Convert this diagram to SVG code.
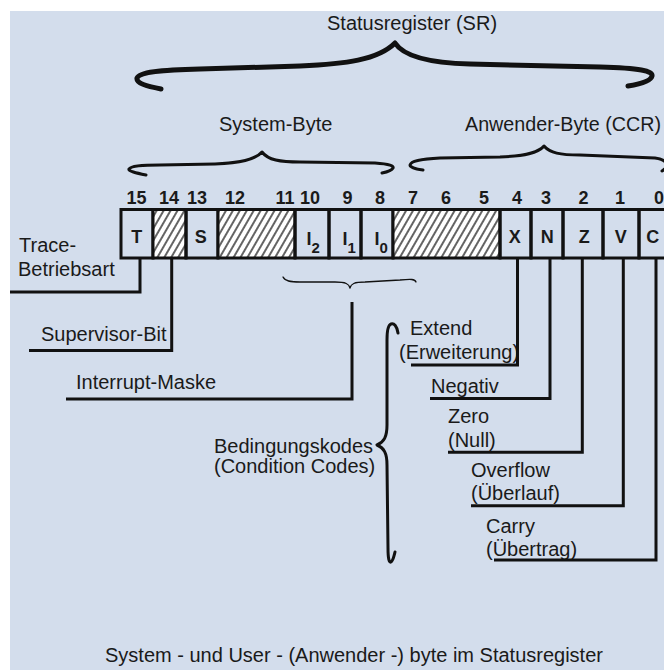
<svg xmlns="http://www.w3.org/2000/svg" width="664" height="670" viewBox="0 0 664 670">
<defs>
<pattern id="hatch" patternUnits="userSpaceOnUse" width="6" height="6" patternTransform="rotate(30)">
<rect width="6" height="6" fill="#ffffff"/>
<line x1="1" y1="0" x2="1" y2="6" stroke="#222" stroke-width="1.4"/>
</pattern>
</defs>
<style>
.lbl{font-family:"Liberation Sans",Arial,sans-serif;font-size:20px;fill:#1a1a1a}
.num{font-family:"Liberation Sans",Arial,sans-serif;font-size:18px;font-weight:bold;fill:#1a1a1a;text-anchor:middle}
.cellt{font-family:"Liberation Sans",Arial,sans-serif;font-size:18px;font-weight:bold;fill:#1a1a1a}
.box{fill:none;stroke:#111;stroke-width:3}
.hat{fill:url(#hatch);stroke:#111;stroke-width:3}
.ln{fill:none;stroke:#111;stroke-width:3}
.br{fill:none;stroke:#111;stroke-linecap:round;stroke-linejoin:round}
</style>
<rect x="10" y="11" width="654" height="659" fill="#d3ddec"/>

<g id="title">
<text class="lbl" x="327" y="30">Statusregister (SR)</text>
<path class="br" stroke-width="5" d="M161,89 C146,86 136,83 137,78 C139,72 160,70 200,69 L300,66 C345,64 378,60 395,43 C404,57 430,63 470,64 L600,67 C640,68 653,71 652,76 C651,81 640,84 628,86"/>
</g>

<g id="system-byte">
<text class="lbl" x="219" y="131">System-Byte</text>
<path class="br" stroke-width="3" d="M146,175 C136,173 128,171 129,169 C131,166 140,165 160,165 L215,164 C240,163 255,160 262,152 C268,160 280,162 300,162 L375,163 C390,164 394,166 393,168 C392,170 387,172 382,173"/>
</g>

<g id="anwender-byte">
<text class="lbl" x="465" y="131" textLength="196" lengthAdjust="spacingAndGlyphs">Anwender-Byte (CCR)</text>
<path class="br" stroke-width="3" d="M423,170 C415,169 410,167 410,165 C411,161 420,159 440,158 L500,157 C525,156 538,153 544,146 C550,153 560,155 580,155 L655,158 C668,160 670,166 662,171"/>
</g>

<g id="bitnumbers">
<text class="num" x="136.5" y="204">15</text>
<text class="num" x="169" y="204">14</text>
<text class="num" x="197" y="204">13</text>
<text class="num" x="235" y="204">12</text>
<text class="num" x="285" y="204">11</text>
<text class="num" x="310" y="204">10</text>
<text class="num" x="347.5" y="204">9</text>
<text class="num" x="380" y="204">8</text>
<text class="num" x="413" y="204">7</text>
<text class="num" x="446" y="204">6</text>
<text class="num" x="484" y="204">5</text>
<text class="num" x="517" y="204">4</text>
<text class="num" x="546" y="204">3</text>
<text class="num" x="583.5" y="204">2</text>
<text class="num" x="620" y="204">1</text>
<text class="num" x="659" y="204">0</text>
</g>

<g id="register">
<rect id="bit15" class="box" x="121" y="209.5" width="32" height="48.5"/>
<rect id="bit14" class="hat" x="153" y="209.5" width="33" height="48.5"/>
<rect id="bit13" class="box" x="186" y="209.5" width="32" height="48.5"/>
<rect id="bit12-11" class="hat" x="218" y="209.5" width="77" height="48.5"/>
<rect id="bit10" class="box" x="295" y="209.5" width="34" height="48.5"/>
<rect id="bit9" class="box" x="329" y="209.5" width="32" height="48.5"/>
<rect id="bit8" class="box" x="361" y="209.5" width="32" height="48.5"/>
<rect id="bit7-5" class="hat" x="393" y="209.5" width="107" height="48.5"/>
<rect id="bit4" class="box" x="500" y="209.5" width="31" height="48.5"/>
<rect id="bit3" class="box" x="531" y="209.5" width="32" height="48.5"/>
<rect id="bit2" class="box" x="563" y="209.5" width="40" height="48.5"/>
<rect id="bit1" class="box" x="603" y="209.5" width="36" height="48.5"/>
<rect id="bit0" class="box" x="639" y="209.5" width="40" height="48.5"/>
<text class="num" x="136.7" y="243">T</text>
<text class="num" x="200.8" y="243">S</text>
<text class="cellt" x="306.5" y="245">I<tspan font-size="15" dy="8">2</tspan></text>
<text class="cellt" x="342.5" y="245">I<tspan font-size="15" dy="8">1</tspan></text>
<text class="cellt" x="374.5" y="245">I<tspan font-size="15" dy="8">0</tspan></text>
<text class="num" x="514.7" y="243">X</text>
<text class="num" x="547.2" y="243">N</text>
<text class="num" x="584.3" y="243">Z</text>
<text class="num" x="620.8" y="243">V</text>
<text class="num" x="652.8" y="243">C</text>
</g>

<g id="interrupt-brace">
<path class="br" stroke-width="1.3" d="M283,277 C285,281 290,282 300,282 L335,282 C346,282 349,284 350,288 C351,284 354,282 365,282 L400,280 C411,279 415,279 416,282"/>
</g>

<g id="trace">
<text class="lbl" x="19" y="252">Trace-</text>
<text class="lbl" x="18" y="276">Betriebsart</text>
</g>
<g id="supervisor">
<text class="lbl" x="41" y="341">Supervisor-Bit</text>
</g>
<g id="interrupt">
<text class="lbl" x="76" y="389">Interrupt-Maske</text>
</g>

<g id="condition-brace">
<path class="br" stroke-width="3" d="M398,333 C397,326 394,323 391,324 C388,325 387,330 387,340 L387,425 C387,437 384,442 377,445 C384,448 387,453 387,465 L388,548 C388,558 389,563 391,562 C393,561 394,556 395,552"/>
<text class="lbl" x="214" y="453">Bedingungskodes</text>
<text class="lbl" x="214" y="473">(Condition Codes)</text>
</g>

<g id="extend">
<text class="lbl" x="410" y="335">Extend</text>
<text class="lbl" x="399" y="359">(Erweiterung)</text>
</g>
<g id="negativ">
<text class="lbl" x="431" y="393">Negativ</text>
</g>
<g id="zero">
<text class="lbl" x="448" y="423">Zero</text>
<text class="lbl" x="448" y="447">(Null)</text>
</g>
<g id="overflow">
<text class="lbl" x="471" y="477">Overflow</text>
<text class="lbl" x="471" y="500">(Überlauf)</text>
</g>
<g id="carry">
<text class="lbl" x="486" y="533">Carry</text>
<text class="lbl" x="486" y="556">(Übertrag)</text>
</g>

<g id="connectors">
<path class="ln" d="M140,258 V292 H10"/>
<path class="ln" d="M171.7,258 V350.5 H29"/>
<path class="ln" d="M352,302 V399 H66"/>
<path class="ln" d="M517.5,258 V365 H411"/>
<path class="ln" d="M550,258 V398.5 H430"/>
<path class="ln" d="M582.3,258 V452.3 H448"/>
<path class="ln" d="M623.3,258 V505.7 H471"/>
<path class="ln" d="M656,258 V560 H494"/>
</g>

<g id="caption">
<text class="lbl" x="105" y="662">System - und User - (Anwender -) byte im Statusregister</text>
</g>
</svg>
